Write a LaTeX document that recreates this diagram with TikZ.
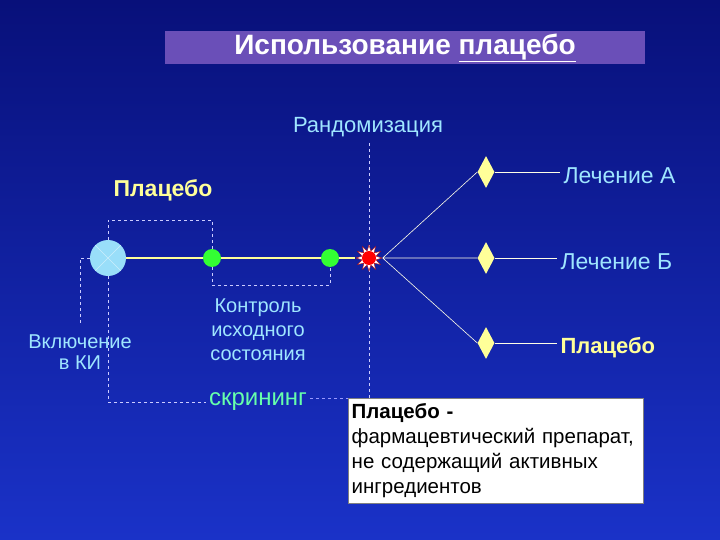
\documentclass[tikz,border=0pt]{standalone}
\usepackage{fontspec}
\setmainfont{Liberation Sans}
\usetikzlibrary{shapes.geometric,shapes.misc,shadings}
\definecolor{bgtop}{HTML}{08107A}
\definecolor{bgbot}{HTML}{1A32C8}
\definecolor{cyantxt}{HTML}{9FE6FF}
\definecolor{ylw}{HTML}{FFFF99}
\definecolor{ttl}{HTML}{6A4FB8}
\begin{document}
\begin{tikzpicture}[x=1pt,y=-1pt,
  lbl/.style={text=cyantxt,font=\fontsize{20}{21}\selectfont,align=center},
  dsh/.style={draw=white!80!blue,dashed,line width=0.7pt},
  dia/.style={diamond,fill=ylw,draw=none,minimum width=17pt,minimum height=32pt,inner sep=0pt,aspect=0.5},
  grn/.style={circle,fill=green!80!white,draw=none,minimum size=18pt,inner sep=0pt},
  wl/.style={draw=white!90!yellow,line width=0.6pt}]
\shade[top color=bgtop,bottom color=bgbot] (0,0) rectangle (720,540);
\useasboundingbox (0,0) rectangle (720,540);
\node[fill=ttl,minimum width=480pt,minimum height=33pt,text=white,font=\bfseries\fontsize{28}{29}\selectfont,inner sep=0pt] (title) at (405,48) {Использование \underline{плацебо}};
\node[lbl,font=\fontsize{22}{24}\selectfont] (rand) at (368,127) {Рандомизация};
\node[text=ylw,font=\bfseries\fontsize{23}{25}\selectfont] (plac) at (163,190) {Плацебо};
\coordinate (rtop) at (369,143);
\coordinate (rbot) at (369,398);
\draw[dsh] (rtop) -- (rbot);
\node[circle,fill=cyan!40!white,draw=none,minimum size=36pt] (ki) at (108,258) {};
\draw[white!80!cyan,line width=0.6pt] (ki.45) -- (ki.225) (ki.135) -- (ki.315);
\node[grn] (g1) at (212,258) {};
\node[grn] (g2) at (330,258) {};
\node[star,star points=12,star point ratio=1.8,fill=white,draw=red!70!black,minimum size=26pt,inner sep=0pt] (st) at (369,258) {};
\node[circle,fill=red,minimum size=14pt,inner sep=0pt] (rd) at (369,258) {};
\draw[ylw,line width=2.2pt] (ki) -- (g1) -- (g2) -- (st);
\node[dia] (dA) at (486,172) {};
\node[dia] (dB) at (486,258) {};
\node[dia] (dC) at (486,343) {};
\draw[wl] (st.east) -- (dA.west) (st.east) -- (dB.west) (st.east) -- (dC.west);
\node[lbl,font=\fontsize{23}{25}\selectfont,anchor=west] (lA) at (560,176) {Лечение А};
\node[lbl,font=\fontsize{23}{25}\selectfont,anchor=west] (lB) at (557,262) {Лечение Б};
\node[text=ylw,font=\bfseries\fontsize{22}{24}\selectfont,anchor=west] (lC) at (557,348) {Плацебо};
\draw[wl] (dA.east) -- (dA.east -| lA.west) (dB.east) -- (dB.east -| lB.west) (dC.east) -- (dC.east -| lC.west);
\draw[dsh] (ki.north) -- (108,220) -| (g1.north);
\draw[dsh] (g1.south) -- (212,285) -| (g2.south);
\coordinate (lk) at (80,325);
\draw[dsh] (ki.west) -- (80,258) -- (lk);
\node[lbl] (vkl) at (80,352) {Включение\\в КИ};
\node[lbl,font=\fontsize{20}{24}\selectfont] (ctl) at (258,330) {Контроль\\исходного\\состояния};
\node[text=green!55!cyan!60!white,font=\fontsize{24}{25}\selectfont] (scr) at (258,402) {скрининг};
\draw[dsh] (ki.south) |- (scr.west);
\draw[dsh,draw=blue!40!white] (scr.east |- rbot) -- (rbot);
\node[fill=white,draw=gray,minimum width=295pt,minimum height=105pt,text width=288pt,align=left,font=\fontsize{20.5}{25}\selectfont,anchor=north west,inner sep=3pt] (box) at (348,398) {\textbf{Плацебо -}\\фармацевтический препарат,\\не содержащий активных\\ингредиентов};
\end{tikzpicture}
\end{document}
